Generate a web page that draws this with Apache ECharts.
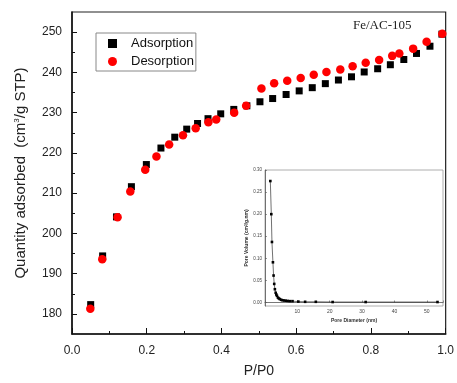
<!DOCTYPE html>
<html><head><meta charset="utf-8">
<script src="https://cdn.jsdelivr.net/npm/echarts@6/dist/echarts.min.js"></script>
<style>html,body{margin:0;padding:0;background:#fff}#c{width:457px;height:383px}</style>
</head><body><div id="c"></div>
<script>
const adsP = [0.050,0.082,0.119,0.159,0.199,0.238,0.275,0.307,0.336,0.364,0.398,0.433,0.468,0.503,0.537,0.573,0.608,0.643,0.678,0.713,0.748,0.782,0.818,0.852,0.888,0.922,0.958,0.990];
const adsV = [182.3,194.4,204.1,211.6,217.1,221.2,223.9,225.9,227.3,228.5,229.7,230.8,231.7,232.7,233.5,234.5,235.4,236.2,237.2,238.1,238.9,240.1,240.9,241.9,243.2,244.7,246.5,249.5];
const desP = [0.049,0.081,0.122,0.156,0.196,0.226,0.260,0.297,0.331,0.365,0.386,0.434,0.466,0.507,0.541,0.576,0.612,0.647,0.681,0.718,0.751,0.786,0.822,0.857,0.876,0.913,0.949,0.991];
const desV = [181.3,193.6,204.0,210.4,215.8,219.1,222.1,224.4,226.1,227.6,228.3,230.0,231.7,236.0,237.3,237.9,238.6,239.4,240.1,240.7,241.5,242.4,243.1,244.1,244.7,245.9,247.6,249.6];
const poreD = [1.65,1.95,2.15,2.45,2.65,2.85,3.05,3.3,3.5,3.7,4.0,4.3,4.6,5.0,5.4,5.9,6.4,7.0,7.7,8.5,10.3,12.4,15.7,20.9,31.1,53.3];
const poreV = [0.275,0.200,0.137,0.091,0.061,0.042,0.030,0.022,0.018,0.015,0.011,0.009,0.0075,0.006,0.005,0.0045,0.004,0.0035,0.003,0.003,0.002,0.0015,0.0015,0.001,0.001,0.001];
const yMajor = [180,190,200,210,220,230,240,250];
const yMinor = [185,195,205,215,225,235,245];
const insetYTicks = [0,0.05,0.10,0.15,0.20,0.25,0.30];
const insetXTicks = [10,20,30,40,50];

const zip = (a,b) => a.map((v,i)=>[v,b[i]]);
const FONT = 'Liberation Sans, Arial, sans-serif';
const chart = echarts.init(document.getElementById('c'), null, {renderer:'canvas'});
chart.setOption({
  animation:false,
  backgroundColor:'#fff',
  title:{text:'Fe/AC-105', left:348, top:14, textStyle:{fontFamily:'Liberation Serif, Times New Roman, serif', fontWeight:'normal', fontSize:13, color:'#222'}},
  legend:{
    left:96, top:33, orient:'vertical', itemGap:5, itemWidth:9, itemHeight:9,
    padding:[4,2,3,12], borderColor:'#888', borderWidth:1,
    textStyle:{fontFamily:FONT, fontSize:13, color:'#111', padding:[0,0,0,9]},
    data:[{name:'Adsorption', icon:'rect'},{name:'Desorption', icon:'circle'}]
  },
  grid:[
    {left:72, right:7, top:12, bottom:46, show:true, borderColor:'#222', borderWidth:1.2},
    {left:265, right:14, top:170, bottom:77, show:true, borderColor:'#999', borderWidth:0.8, backgroundColor:'#fff'}
  ],
  xAxis:[
    {gridIndex:0, type:'value', min:0, max:1, interval:0.2,
     name:'P/P0', nameLocation:'middle', nameGap:30, nameTextStyle:{fontFamily:FONT, fontSize:14, color:'#222'},
     axisLine:{lineStyle:{color:'#111', width:1.5}},
     axisTick:{inside:true, length:6, lineStyle:{color:'#111'}},
     minorTick:{show:true, splitNumber:2, length:3, lineStyle:{color:'#111'}},
     splitLine:{show:false},
     axisLabel:{fontFamily:FONT, fontSize:12, color:'#222', margin:11, formatter:v=>v.toFixed(1)}},
    {gridIndex:1, type:'value', min:0, max:55, interval:10,
     name:'Pore Diameter (nm)', nameLocation:'middle', nameGap:12, nameTextStyle:{fontFamily:FONT, fontSize:5, color:'#333', fontWeight:'bold'},
     axisLine:{lineStyle:{color:'#555', width:0.8}},
     axisTick:{inside:true, length:2, lineStyle:{color:'#555', width:0.6}},
     splitLine:{show:false},
     axisLabel:{fontFamily:FONT, fontSize:5, color:'#444', margin:3, customValues:insetXTicks}}
  ],
  yAxis:[
    {gridIndex:0, type:'value', min:175, max:255, position:'left',
     name:'Quantity adsorbed  (cm{sup|3}/g STP)', nameLocation:'middle', nameGap:43,
     nameTextStyle:{fontFamily:FONT, fontSize:15, color:'#222', rich:{sup:{fontFamily:FONT, fontSize:8, color:'#222', verticalAlign:'top', padding:[0,0,8,0]}}},
     axisLine:{lineStyle:{color:'#111', width:1.5}},
     axisTick:{inside:true, length:5, customValues:yMajor, lineStyle:{color:'#111'}},
     splitLine:{show:false},
     axisLabel:{fontFamily:FONT, fontSize:12, color:'#222', margin:10, customValues:yMajor}},
    {gridIndex:0, type:'value', min:175, max:255, position:'left', offset:0,
     axisLine:{show:false},
     axisTick:{inside:true, length:3, customValues:yMinor, lineStyle:{color:'#111'}},
     splitLine:{show:false},
     axisLabel:{show:false}},
    {gridIndex:1, type:'value', min:-0.008, max:0.30,
     name:'Pore Volume (cm{sup|3}/g.nm)', nameLocation:'middle', nameGap:12,
     nameTextStyle:{fontFamily:FONT, fontSize:5, color:'#333', fontWeight:'bold', rich:{sup:{fontSize:3, fontFamily:FONT, color:'#333', verticalAlign:'top'}}},
     axisLine:{lineStyle:{color:'#555', width:0.8}},
     axisTick:{inside:true, length:2, customValues:insetYTicks, lineStyle:{color:'#555', width:0.6}},
     splitLine:{show:false},
     axisLabel:{fontFamily:FONT, fontSize:4.5, color:'#444', margin:3, customValues:insetYTicks, formatter:v=>v.toFixed(2)}}
  ],
  series:[
    {name:'Adsorption', type:'scatter', xAxisIndex:0, yAxisIndex:0, symbol:'rect', symbolSize:7,
     itemStyle:{color:'#000', opacity:1}, data:zip(adsP, adsV), z:2},
    {name:'Desorption', type:'scatter', xAxisIndex:0, yAxisIndex:0, symbol:'circle', symbolSize:8.5,
     itemStyle:{color:'#ff0000', opacity:1}, data:zip(desP, desV), z:3},
    {name:'PSD', type:'line', xAxisIndex:1, yAxisIndex:2, symbol:'rect', symbolSize:2.6, showSymbol:true,
     lineStyle:{color:'#111', width:0.6}, itemStyle:{color:'#000'}, data:zip(poreD, poreV), z:4}
  ]
});
</script></body></html>
